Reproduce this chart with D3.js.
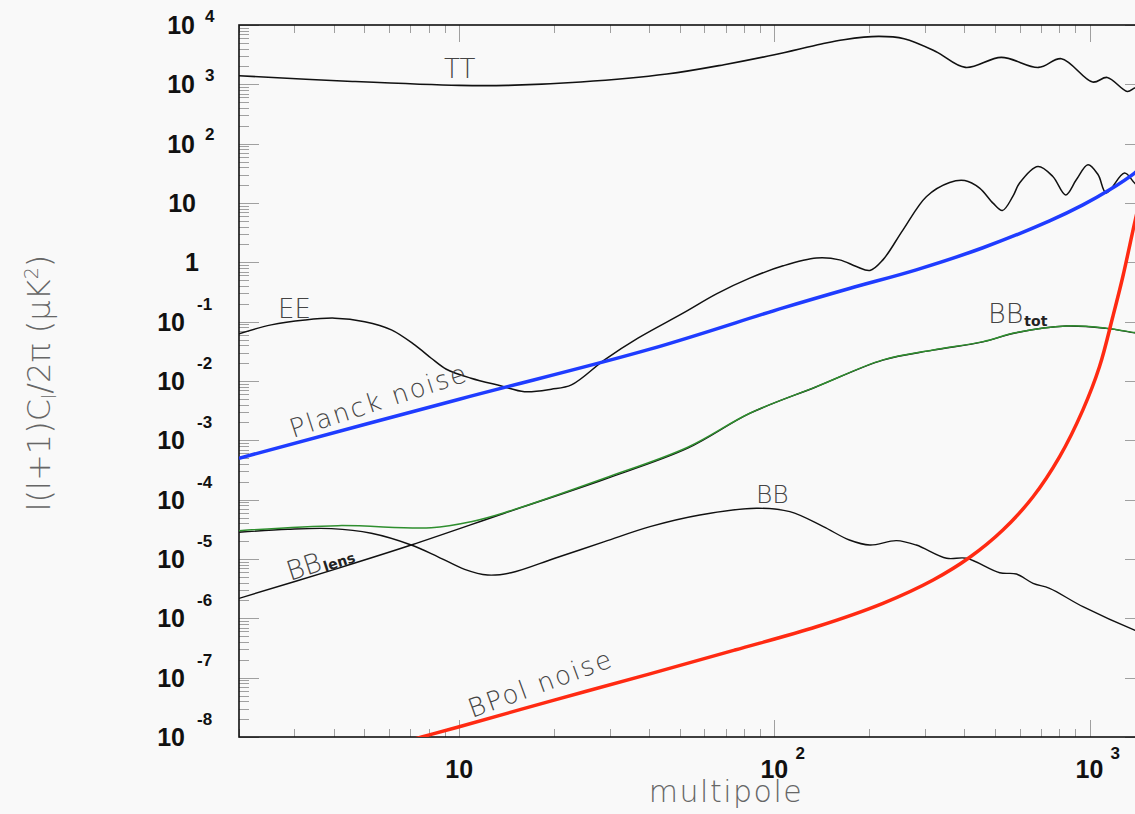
<!DOCTYPE html>
<html>
<head>
<meta charset="utf-8">
<script src="https://cdnjs.cloudflare.com/ajax/libs/d3/7.8.5/d3.min.js"></script>
<style>
  body { margin: 0; background: #f9f9f9; overflow: hidden; }
  svg { display: block; }
</style>
</head>
<body>
<svg id="chart" width="1135" height="814"></svg>
<script>
// spectra: [multipole, l(l+1)C_l/2pi in uK^2]
var ttData = [[2, 1396], [4.58, 1119], [10, 959], [14.2, 959], [24.3, 1093], [45.6, 1492],
    [69.2, 2143], [100, 3155], [141, 4786], [166, 5653], [214, 6427], [258, 5875], [325, 3589],
    [404, 1928], [525, 2843], [689, 1928], [814, 2704], [1023, 1093], [1138, 1306], [1318, 759],
    [1390, 870], [1500, 1000]];

var eeData = [[2, 0.0622], [2.53, 0.0883], [3.24, 0.107], [4.03, 0.1146], [5.01, 0.1], [6.09, 0.0728],
    [7.22, 0.0406], [8.15, 0.0242], [9.1, 0.0158], [10.9, 0.01115], [13.6, 0.00826], [16.1, 0.00662],
    [19.6, 0.00728], [22.7, 0.00859], [28.9, 0.0227], [36.9, 0.0527], [51.3, 0.139], [65.5, 0.294],
    [83.5, 0.541], [106.6, 0.873], [136, 1.18], [161, 1.1], [182, 0.85], [201, 0.728], [221, 1.1],
    [256, 3.53], [304, 12.9], [360, 22.2], [402, 23.9], [448, 17.8], [494, 9.95], [529, 7.47],
    [571, 12.9], [600, 21.7], [686, 41.3], [765, 28], [840, 13.7], [908, 24.6], [989, 44.1],
    [1065, 29.9], [1130, 14.8], [1291, 31.9], [1390, 21.7], [1500, 15]];

var bbData = [[2, 2.82e-5], [2.86, 3.17e-5], [3.93, 3.25e-5], [5.26, 2.71e-5], [7.04, 1.72e-5],
    [8.56, 1.09e-5], [10.4, 6.7e-6], [12.3, 5.37e-6], [14.6, 5.87e-6], [20.1, 1.03e-5], [28.9, 1.96e-5],
    [40.3, 3.51e-5], [58, 5.52e-5], [87.7, 7.16e-5], [112, 6.28e-5], [143, 3.51e-5], [173, 2.09e-5],
    [201, 1.72e-5], [244, 2.04e-5], [282, 1.72e-5], [352, 1.03e-5], [407, 1.03e-5], [519, 5.87e-6],
    [586, 5.58e-6], [662, 3.89e-6], [747, 3.2e-6], [953, 1.57e-6], [1390, 6.35e-7], [1500, 5.5e-7]];

var lensData = [[2, 2.17e-6], [4.12, 6.97e-6], [7.04, 1.72e-5], [13.9, 5.9e-5], [28.9, 2.21e-4],
    [53.1, 7.36e-4], [83.5, 2.84e-3], [136, 8.0e-3], [221, 0.0225], [319, 0.0331], [459, 0.0457],
    [586, 0.065], [844, 0.0843], [1130, 0.0771], [1390, 0.065], [1500, 0.0615]];

var totData = [[2, 3.0e-5], [4.12, 3.65e-5], [8.15, 3.37e-5], [10.9, 4.26e-5], [13.9, 6.04e-5],
    [28.9, 2.3e-4], [53.1, 7.66e-4], [83.5, 2.86e-3], [136, 8.05e-3], [221, 0.0227], [319, 0.0334],
    [459, 0.0461], [586, 0.0655], [844, 0.0849], [1130, 0.0777], [1390, 0.0655], [1500, 0.062]];

var planckData = [[2, 4.99e-4], [10, 4.93e-3], [40.3, 0.0344], [106.6, 0.171], [173, 0.363],
    [282, 0.748], [459, 1.76], [747, 5.0], [953, 9.3], [1158, 16.7], [1390, 32], [1500, 46]];

var bpolData = [[6, 7e-9], [7.6, 1e-8], [10, 1.49e-8], [20, 4.19e-8], [40, 1.15e-7], [74.9, 2.92e-7],
    [136, 7.21e-7], [221, 1.79e-6], [319, 4.43e-6], [417, 1.07e-5], [531, 3.08e-5], [662, 1.12e-4],
    [804, 5.31e-4], [953, 3.26e-3], [1076, 0.0175], [1186, 0.122], [1276, 0.577], [1390, 4.58],
    [1450, 12]];

var xTickExps = [1, 2, 3];
var yTickExps = [4, 3, 2, 1, 0, -1, -2, -3, -4, -5, -6, -7, -8];

var svg = d3.select("#chart"),
    plotL = 239, plotR = 1145, plotT = 25, plotB = 737;

var x = d3.scaleLog().domain([2, 1500]).range([plotL, plotR]);
var y = d3.scaleLog().domain([1e-8, 1e4]).range([plotB, plotT]);

var line = d3.line()
    .x(function (d) { return x(d[0]); })
    .y(function (d) { return y(d[1]); })
    .curve(d3.curveCatmullRom.alpha(0.5));

svg.append("rect").attr("width", 1135).attr("height", 814).attr("fill", "#f9f9f9");

svg.append("clipPath").attr("id", "plot")
    .append("rect")
    .attr("x", plotL).attr("y", plotT)
    .attr("width", plotR - plotL).attr("height", plotB - plotT);

// minor and major ticks
var xMinor = [], yMinor = [];
for (var e = 0; e <= 3; e++) {
    for (var m = 2; m <= 9; m++) {
        var v = m * Math.pow(10, e);
        if (v >= 2 && v <= 1500) xMinor.push(v);
    }
}
for (var e2 = -8; e2 < 4; e2++) {
    for (var m2 = 2; m2 <= 9; m2++) yMinor.push(m2 * Math.pow(10, e2));
}
var xMajor = xTickExps.map(function (k) { return Math.pow(10, k); });
var yMajor = yTickExps.map(function (k) { return Math.pow(10, k); });

var ticks = svg.append("g").attr("stroke", "#a0a0a0").attr("stroke-width", 1);

function yTicks(vals, len) {
    ticks.selectAll(null).data(vals).enter().append("line")
        .attr("x1", plotL).attr("x2", plotL + len)
        .attr("y1", function (d) { return Math.round(y(d)) + 0.5; })
        .attr("y2", function (d) { return Math.round(y(d)) + 0.5; });
    ticks.selectAll(null).data(vals).enter().append("line")
        .attr("x1", plotR).attr("x2", plotR - len)
        .attr("y1", function (d) { return Math.round(y(d)) + 0.5; })
        .attr("y2", function (d) { return Math.round(y(d)) + 0.5; });
}
function xTicks(vals, len) {
    ticks.selectAll(null).data(vals).enter().append("line")
        .attr("x1", function (d) { return Math.round(x(d)) + 0.5; })
        .attr("x2", function (d) { return Math.round(x(d)) + 0.5; })
        .attr("y1", plotB).attr("y2", plotB - len);
    ticks.selectAll(null).data(vals).enter().append("line")
        .attr("x1", function (d) { return Math.round(x(d)) + 0.5; })
        .attr("x2", function (d) { return Math.round(x(d)) + 0.5; })
        .attr("y1", plotT).attr("y2", plotT + len);
}
yTicks(yMinor, 10);
yTicks(yMajor, 20);
xTicks(xMinor, 8);
xTicks(xMajor, 17);

// frame
svg.append("rect")
    .attr("x", plotL).attr("y", plotT)
    .attr("width", plotR - plotL).attr("height", plotB - plotT)
    .attr("fill", "none").attr("stroke", "#111").attr("stroke-width", 1.6);

// curves
var curves = svg.append("g").attr("clip-path", "url(#plot)").attr("fill", "none");

function drawCurve(data, color, width) {
    curves.append("path")
        .datum(data)
        .attr("d", line)
        .attr("stroke", color)
        .attr("stroke-width", width)
        .attr("stroke-linejoin", "round");
}
drawCurve(ttData, "#111", 1.6);
drawCurve(eeData, "#111", 1.5);
drawCurve(bbData, "#111", 1.4);
drawCurve(lensData, "#111", 1.4);
drawCurve(totData, "#2f8f2f", 1.5);
drawCurve(planckData, "#1f3cff", 3.5);
drawCurve(bpolData, "#ff2a12", 3.5);

// y tick labels
var yLab = svg.append("g")
    .style("font-family", "'Liberation Sans', Arial, sans-serif")
    .style("font-weight", "bold")
    .attr("fill", "#111");

yTickExps.forEach(function (k) {
    var ty = y(Math.pow(10, k));
    if (k === 1 || k === 0) {
        yLab.append("text").attr("x", k === 0 ? 199 : 196).attr("y", ty + 9)
            .attr("text-anchor", "end").style("font-size", "25px")
            .text(k === 0 ? "1" : "10");
        return;
    }
    var neg = k < 0;
    yLab.append("text").attr("x", neg ? 185 : 195).attr("y", ty + 9)
        .attr("text-anchor", "end").style("font-size", "25px").text("10");
    yLab.append("text").attr("x", neg ? 197 : 205).attr("y", neg ? ty - 12 : ty - 3.5)
        .style("font-size", "17px").text(k);
});

// x tick labels
xTickExps.forEach(function (k) {
    var tx = x(Math.pow(10, k));
    yLab.append("text").attr("x", tx).attr("y", 778)
        .attr("text-anchor", "middle").style("font-size", "25px").text("10");
    if (k > 1) {
        yLab.append("text").attr("x", tx + 21).attr("y", 759)
            .style("font-size", "17px").text(k);
    }
});

// axis titles
var thin = "'DejaVu Sans', sans-serif";
svg.append("text")
    .attr("x", 726).attr("y", 802)
    .attr("text-anchor", "middle")
    .style("font-family", thin).style("font-weight", 200)
    .style("font-size", "30px").style("letter-spacing", "1.5px")
    .attr("fill", "#666")
    .text("multipole");

var yt = svg.append("text")
    .attr("transform", "translate(50,383) rotate(-90)")
    .attr("text-anchor", "middle")
    .style("font-family", thin).style("font-weight", 200)
    .style("font-size", "32px")
    .attr("fill", "#666");
yt.append("tspan").text("l(l+1)C");
yt.append("tspan").attr("dy", 6).style("font-size", "19px").text("l");
yt.append("tspan").attr("dy", -6).text("/2π (μK");
yt.append("tspan").attr("dy", -12).style("font-size", "19px").text("2");
yt.append("tspan").attr("dy", 12).text(")");

// curve labels
var lab = svg.append("g")
    .style("font-family", thin).style("font-weight", 200)
    .attr("fill", "#444");

lab.append("text").attr("x", 444).attr("y", 78).style("font-size", "26px").text("TT");
lab.append("text").attr("x", 278).attr("y", 318).style("font-size", "26px").text("EE");
lab.append("text").attr("x", 756).attr("y", 503).style("font-size", "25px").text("BB");

var tot = lab.append("text").attr("x", 988).attr("y", 323).style("font-size", "27px");
tot.append("tspan").text("BB");
tot.append("tspan").attr("dy", 3).attr("dx", 1)
    .style("font-size", "14px").style("font-weight", "bold").attr("fill", "#222").text("tot");

var lens = lab.append("text").attr("transform", "translate(290,581) rotate(-18)").style("font-size", "27px");
lens.append("tspan").text("BB");
lens.append("tspan").attr("dy", 2).attr("dx", 1)
    .style("font-size", "14px").style("font-weight", "bold").attr("fill", "#222").text("lens");

lab.append("text").attr("transform", "translate(293,438) rotate(-18)")
    .style("font-size", "26px").style("letter-spacing", "2px").text("Planck noise");

lab.append("text").attr("transform", "translate(472,718) rotate(-20)")
    .style("font-size", "26px").style("letter-spacing", "2px").text("BPol noise");
</script>
</body>
</html>
